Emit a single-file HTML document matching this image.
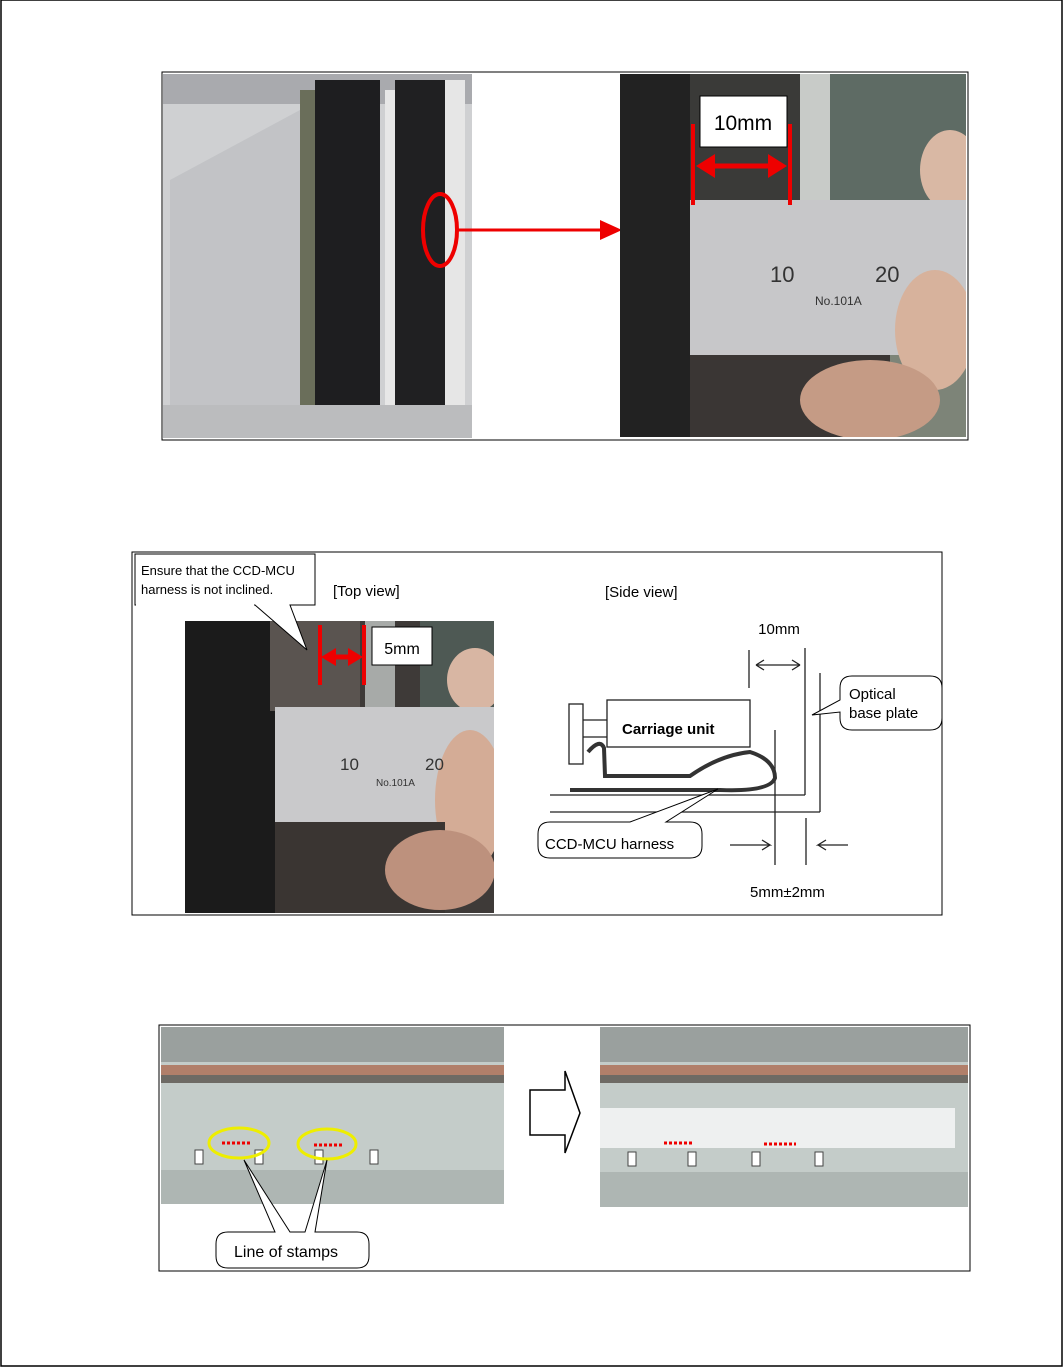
<!DOCTYPE html>
<html><head><meta charset="utf-8"><style>
html,body{margin:0;padding:0;background:#fff}
svg{display:block}
text{font-family:"Liberation Sans",sans-serif}
</style></head><body>
<svg width="1064" height="1369" viewBox="0 0 1064 1369" xmlns="http://www.w3.org/2000/svg">
<defs>
<clipPath id="c1"><rect x="620" y="74" width="346" height="363"/></clipPath>
<clipPath id="c2"><rect x="185" y="621" width="309" height="292"/></clipPath>
</defs>
<rect x="1" y="0" width="1061" height="1366" fill="none" stroke="#000" stroke-width="1.5"/>

<!-- Panel 1 -->
<rect x="162" y="72" width="806" height="368" fill="none" stroke="#000" stroke-width="1"/>
<rect x="163" y="74" width="309" height="364" fill="#cfd0d2"/>
<rect x="163" y="74" width="309" height="30" fill="#a9aaae"/>
<polygon points="170,180 300,110 300,420 170,420" fill="#c2c3c6"/>
<rect x="300" y="90" width="20" height="330" fill="#6a6e5a"/>
<rect x="315" y="80" width="65" height="340" fill="#1e1e20"/>
<rect x="385" y="90" width="10" height="340" fill="#e7e7e7"/>
<rect x="395" y="80" width="50" height="345" fill="#202022"/>
<rect x="445" y="80" width="20" height="355" fill="#e6e6e6"/>
<rect x="163" y="405" width="309" height="33" fill="#bbbcbe"/>
<ellipse cx="440" cy="230" rx="17" ry="36" fill="none" stroke="#e00" stroke-width="4"/>
<line x1="458" y1="230" x2="605" y2="230" stroke="#e00" stroke-width="3"/>
<polygon points="622,230 600,220 600,240" fill="#e00"/>

<g clip-path="url(#c1)">
<rect x="620" y="74" width="346" height="363" fill="#7d8478"/>
<rect x="620" y="74" width="70" height="363" fill="#222"/>
<rect x="690" y="74" width="110" height="130" fill="#3a3a38"/>
<rect x="800" y="74" width="30" height="363" fill="#c8cbc8"/>
<rect x="830" y="74" width="136" height="140" fill="#5e6b64"/>
<ellipse cx="950" cy="170" rx="30" ry="40" fill="#d9b8a4"/>
<rect x="690" y="200" width="276" height="155" fill="#c7c7c9"/>
<ellipse cx="935" cy="330" rx="40" ry="60" fill="#d7b29c"/>
<rect x="690" y="355" width="200" height="82" fill="#3a3634"/>
<ellipse cx="870" cy="400" rx="70" ry="40" fill="#c59b85"/>
</g>
<text x="770" y="282" font-size="22" fill="#333">10</text>
<text x="875" y="282" font-size="22" fill="#333">20</text>
<text x="815" y="305" font-size="12" fill="#333">No.101A</text>
<line x1="693" y1="124" x2="693" y2="205" stroke="#e00" stroke-width="4"/>
<line x1="790" y1="124" x2="790" y2="205" stroke="#e00" stroke-width="4"/>
<line x1="705" y1="166" x2="778" y2="166" stroke="#e00" stroke-width="5"/>
<polygon points="696,166 715,154 715,178" fill="#e00"/>
<polygon points="787,166 768,154 768,178" fill="#e00"/>
<rect x="700" y="96" width="87" height="51" fill="#fff" stroke="#000"/>
<text x="743" y="130" font-size="21" text-anchor="middle">10mm</text>

<!-- Panel 2 -->
<rect x="132" y="552" width="810" height="363" fill="none" stroke="#000" stroke-width="1"/>
<g clip-path="url(#c2)">
<rect x="185" y="621" width="309" height="292" fill="#3e3a38"/>
<rect x="185" y="621" width="90" height="292" fill="#1b1b1b"/>
<rect x="270" y="621" width="90" height="90" fill="#5a5450"/>
<rect x="365" y="621" width="30" height="292" fill="#a7aaa8"/>
<rect x="420" y="621" width="74" height="120" fill="#4e5954"/>
<ellipse cx="475" cy="680" rx="28" ry="32" fill="#d8b6a3"/>
<rect x="275" y="707" width="219" height="115" fill="#c9c9cb"/>
<ellipse cx="470" cy="800" rx="35" ry="70" fill="#d4ac96"/>
<rect x="275" y="822" width="170" height="91" fill="#3a3532"/>
<ellipse cx="440" cy="870" rx="55" ry="40" fill="#bd917d"/>
</g>
<text x="340" y="770" font-size="17" fill="#333">10</text>
<text x="425" y="770" font-size="17" fill="#333">20</text>
<text x="376" y="786" font-size="10" fill="#333">No.101A</text>
<line x1="320" y1="625" x2="320" y2="685" stroke="#e00" stroke-width="4"/>
<line x1="364" y1="625" x2="364" y2="685" stroke="#e00" stroke-width="4"/>
<line x1="326" y1="657" x2="358" y2="657" stroke="#e00" stroke-width="5"/>
<polygon points="321,657 336,648 336,666" fill="#e00"/>
<polygon points="363,657 348,648 348,666" fill="#e00"/>
<rect x="372" y="627" width="60" height="38" fill="#fff" stroke="#000"/>
<text x="402" y="654" font-size="16" text-anchor="middle">5mm</text>
<polygon points="135,554 315,554 315,605 290,605 307,650 255,605 135,605" fill="#fff" stroke="#000"/>
<line x1="136" y1="605" x2="254" y2="605" stroke="#fff" stroke-width="2"/>
<text x="141" y="575" font-size="13">Ensure that the CCD-MCU</text>
<text x="141" y="594" font-size="13">harness is not inclined.</text>
<text x="333" y="596" font-size="15">[Top view]</text>
<text x="605" y="597" font-size="15">[Side view]</text>

<text x="779" y="634" font-size="15" text-anchor="middle">10mm</text>
<g stroke="#222" stroke-width="1.3" fill="none">
<line x1="749" y1="650" x2="749" y2="688"/>
<line x1="805" y1="648" x2="805" y2="795"/>
<line x1="820" y1="673" x2="820" y2="812"/>
<line x1="775" y1="730" x2="775" y2="865"/>
<line x1="806" y1="818" x2="806" y2="865"/>
<line x1="550" y1="795" x2="805" y2="795"/>
<line x1="550" y1="812" x2="820" y2="812"/>
<path d="M756,665 L800,665 M756,665 l8,-5 M756,665 l8,5 M800,665 l-8,-5 M800,665 l-8,5"/>
<path d="M730,845 L770,845 l-8,-5 M770,845 l-8,5"/>
<path d="M848,845 L818,845 l8,-5 M818,845 l8,5"/>
<rect x="607" y="700" width="143" height="47"/>
<rect x="569" y="704" width="14" height="60"/>
<line x1="583" y1="720" x2="607" y2="720"/>
<line x1="583" y1="737" x2="607" y2="737"/>
</g>
<path d="M588,752 Q600,738 604,748 L605,776 L690,776 Q720,755 750,752 Q775,760 775,778 Q770,792 720,790 L570,790" fill="none" stroke="#333" stroke-width="4"/>
<text x="622" y="734" font-size="15" font-weight="bold">Carriage unit</text>
<path d="M852,676 L930,676 Q942,676 942,688 L942,718 Q942,730 930,730 L852,730 Q840,730 840,718 L840,712 L812,715 L840,700 L840,688 Q840,676 852,676 Z" fill="#fff" stroke="#000"/>
<text x="849" y="699" font-size="15">Optical</text>
<text x="849" y="718" font-size="15">base plate</text>
<path d="M550,822 L630,822 L718,789 L666,822 L690,822 Q702,822 702,834 L702,846 Q702,858 690,858 L550,858 Q538,858 538,846 L538,834 Q538,822 550,822 Z" fill="#fff" stroke="#000"/>
<text x="545" y="849" font-size="15">CCD-MCU harness</text>
<text x="750" y="897" font-size="15">5mm±2mm</text>

<!-- Panel 3 -->
<rect x="159" y="1025" width="811" height="246" fill="none" stroke="#000" stroke-width="1"/>
<rect x="161" y="1027" width="343" height="177" fill="#c4ccc9"/>
<rect x="161" y="1027" width="343" height="35" fill="#9aa09e"/>
<rect x="161" y="1065" width="343" height="10" fill="#b17f6a"/>
<rect x="161" y="1075" width="343" height="8" fill="#6e6a64"/>
<rect x="161" y="1170" width="343" height="34" fill="#aeb6b3"/>
<g fill="#fff" stroke="#444"><rect x="195" y="1150" width="8" height="14"/><rect x="255" y="1150" width="8" height="14"/><rect x="315" y="1150" width="8" height="14"/><rect x="370" y="1150" width="8" height="14"/></g>
<line x1="222" y1="1143" x2="252" y2="1143" stroke="#e00" stroke-width="3" stroke-dasharray="3,2"/>
<line x1="314" y1="1145" x2="344" y2="1145" stroke="#e00" stroke-width="3" stroke-dasharray="3,2"/>
<ellipse cx="239" cy="1143" rx="30" ry="15" fill="none" stroke="#ee0" stroke-width="3"/>
<ellipse cx="327" cy="1144" rx="29" ry="15" fill="none" stroke="#ee0" stroke-width="3"/>
<path d="M530,1090 L565,1090 L565,1071 L580,1113 L565,1153 L565,1135 L530,1135 Z" fill="#fff" stroke="#000" stroke-width="1.5"/>
<rect x="600" y="1027" width="368" height="180" fill="#c4ccc9"/>
<rect x="600" y="1027" width="368" height="35" fill="#9aa09e"/>
<rect x="600" y="1065" width="368" height="10" fill="#b17f6a"/>
<rect x="600" y="1075" width="368" height="8" fill="#6e6a64"/>
<rect x="600" y="1108" width="355" height="40" fill="#eef0f0"/>
<rect x="600" y="1172" width="368" height="35" fill="#aeb6b3"/>
<g fill="#fff" stroke="#444"><rect x="628" y="1152" width="8" height="14"/><rect x="688" y="1152" width="8" height="14"/><rect x="752" y="1152" width="8" height="14"/><rect x="815" y="1152" width="8" height="14"/></g>
<line x1="664" y1="1143" x2="694" y2="1143" stroke="#e00" stroke-width="3" stroke-dasharray="3,2"/>
<line x1="764" y1="1144" x2="796" y2="1144" stroke="#e00" stroke-width="3" stroke-dasharray="3,2"/>
<path d="M228,1232 L275,1232 L244,1160 L290,1232 L305,1232 L327,1160 L315,1232 L357,1232 Q369,1232 369,1244 L369,1256 Q369,1268 357,1268 L228,1268 Q216,1268 216,1256 L216,1244 Q216,1232 228,1232 Z" fill="#fff" stroke="#000"/>
<text x="234" y="1257" font-size="16">Line of stamps</text>
</svg>
</body></html>
